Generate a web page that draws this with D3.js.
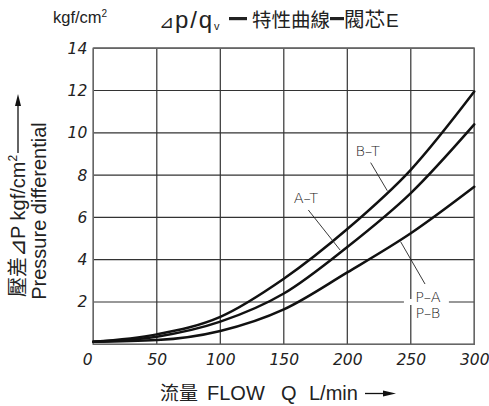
<!DOCTYPE html>
<html>
<head>
<meta charset="utf-8">
<script src="https://cdn.jsdelivr.net/npm/d3@7"></script>
<style>
  body { margin: 0; background: #fff; }
  svg { display: block; }
  .tick text { font-family: "DejaVu Sans", sans-serif; font-style: italic; font-weight: 200; fill: #222; }
  .lbl { font-family: "Liberation Sans", Arial, sans-serif; fill: #222; }
  .cjk { font-family: "Noto Sans CJK TC", sans-serif; }
</style>
</head>
<body>
<svg id="chart"></svg>
<script>
const FLOW = [0, 50, 100, 150, 200, 250, 300];
const BT   = [0.12, 0.47, 1.3, 3.1, 5.45, 8.25, 11.95];
const AT   = [0.12, 0.36, 1.07, 2.4, 4.6, 7.15, 10.4];
const PAB  = [0.12, 0.2, 0.63, 1.65, 3.4, 5.25, 7.45];
const X_TICKS = [0, 50, 100, 150, 200, 250, 300];
const Y_TICKS = [2, 4, 6, 8, 10, 12, 14];
const CURVE_LABELS = ["B–T", "A–T", "P–A", "P–B"];

const W = 489, H = 406;
const M = { left: 93.3, right: 14.7, top: 48.2, bottom: 61.7 };
const iw = W - M.left - M.right, ih = H - M.top - M.bottom;

const svg = d3.select("#chart").attr("width", W).attr("height", H);
const g = svg.append("g").attr("transform", "translate(" + M.left + "," + M.top + ")");

const x = d3.scaleLinear().domain([0, 300]).range([0, iw]);
const y = d3.scaleLinear().domain([0, 14]).range([ih, 0]);

// grid
g.append("g").selectAll("line").data(X_TICKS).join("line")
  .attr("x1", d => x(d)).attr("x2", d => x(d)).attr("y1", 0).attr("y2", ih)
  .attr("stroke", "#333").attr("stroke-width", 1.2);
g.append("g").selectAll("line").data([0].concat(Y_TICKS)).join("line")
  .attr("x1", 0).attr("x2", iw).attr("y1", d => y(d)).attr("y2", d => y(d))
  .attr("stroke", "#333").attr("stroke-width", 1.2);
g.append("rect").attr("width", iw).attr("height", ih)
  .attr("fill", "none").attr("stroke", "#666").attr("stroke-width", 1.4);

// axes (labels only)
const xa = g.append("g").attr("transform", "translate(0," + ih + ")")
  .call(d3.axisBottom(x).tickValues(X_TICKS).tickSize(0).tickPadding(10));
xa.select(".domain").remove();
xa.selectAll("text").attr("font-size", 15.5).attr("dx", d => d === 0 ? -6 : 0);
const ya = g.append("g")
  .call(d3.axisLeft(y).tickValues(Y_TICKS).tickSize(0).tickPadding(6));
ya.select(".domain").remove();
ya.selectAll("text").attr("font-size", 15.5).attr("dy", "0.32em");

// curves
const line = d3.line().x((d, i) => x(FLOW[i])).y(d => y(d)).curve(d3.curveMonotoneX);
[BT, AT, PAB].forEach(s => {
  g.append("path").attr("d", line(s)).attr("fill", "none")
    .attr("stroke", "#111").attr("stroke-width", 2.5).attr("stroke-linecap", "round");
});

// curve labels
g.append("rect").attr("x", x(244.6)).attr("y", y(2) - 3).attr("width", x(280) - x(244.6)).attr("height", 6)
  .attr("fill", "#fff");
const leaders = [
  [[218.4, 8.59], [231.5, 7.26]],
  [[169.3, 6.35], [194.3, 4.46]],
  [[261.2, 2.85], [242, 4.85]],
];
leaders.forEach(l => {
  g.append("line").attr("x1", x(l[0][0])).attr("y1", y(l[0][1]))
    .attr("x2", x(l[1][0])).attr("y2", y(l[1][1]))
    .attr("stroke", "#222").attr("stroke-width", 0.9);
});
const labelPos = [[216, 9.14], [167.5, 6.94], [263.5, 2.26], [263.5, 1.48]];
g.selectAll("text.cl").data(CURVE_LABELS).join("text").attr("class", "cl lbl")
  .attr("x", (d, i) => x(labelPos[i][0])).attr("y", (d, i) => y(labelPos[i][1])).attr("dy", "0.35em")
  .attr("text-anchor", "middle").attr("font-size", 14.5)
  .style("font-family", "'DejaVu Sans', sans-serif").style("font-weight", 200)
  .text(d => d);

// titles
svg.append("text").attr("class", "lbl").attr("x", 53).attr("y", 23).attr("font-size", 16.5)
  .html('kgf/cm<tspan font-size="10" dy="-6">2</tspan>');
svg.append("text").attr("class", "lbl").attr("x", 159).attr("y", 28).attr("font-size", 18).text("⊿");
svg.append("text").attr("class", "lbl").attr("x", 175).attr("y", 28).attr("font-size", 24)
  .attr("textLength", 37).attr("lengthAdjust", "spacing").text("p/q");
svg.append("text").attr("class", "lbl").attr("x", 214).attr("y", 30).attr("font-size", 11).text("v");
svg.append("rect").attr("x", 229).attr("y", 17).attr("width", 18).attr("height", 3.2).attr("fill", "#222");
svg.append("text").attr("class", "lbl cjk").attr("x", 252).attr("y", 27).attr("font-size", 19.5).text("特性曲線");
svg.append("rect").attr("x", 330).attr("y", 17).attr("width", 14).attr("height", 3.2).attr("fill", "#222");
svg.append("text").attr("class", "lbl cjk").attr("x", 344).attr("y", 27).attr("font-size", 20.5).text("閥芯");
svg.append("text").attr("class", "lbl").attr("x", 386).attr("y", 27).attr("font-size", 19).text("E");

// x title
svg.append("text").attr("class", "lbl cjk").attr("x", 160).attr("y", 400).attr("font-size", 19).text("流量");
svg.append("text").attr("class", "lbl").attr("x", 207).attr("y", 400).attr("font-size", 20).text("FLOW");
svg.append("text").attr("class", "lbl").attr("x", 281).attr("y", 400).attr("font-size", 20).text("Q");
svg.append("text").attr("class", "lbl").attr("x", 309).attr("y", 400).attr("font-size", 20).text("L/min");
svg.append("line").attr("x1", 365).attr("x2", 384).attr("y1", 393.5).attr("y2", 393.5).attr("stroke", "#111").attr("stroke-width", 1.3);
svg.append("path").attr("d", "M383,390.5 L396,393.5 L383,396.5 Z").attr("fill", "#111");

// y title
const yt1 = svg.append("text").attr("class", "lbl")
  .attr("transform", "translate(25,297) rotate(-90)").attr("font-size", 20);
yt1.append("tspan").attr("class", "cjk").attr("font-size", 20).text("壓差");
yt1.append("tspan").attr("font-size", 22).text("⊿");
yt1.append("tspan").text("P  kgf/cm");
yt1.append("tspan").attr("font-size", 12).attr("dy", -8).text("2");
const yEnd = 297 - yt1.node().getComputedTextLength() - 2;
svg.append("line").attr("x1", 18).attr("x2", 18).attr("y1", yEnd).attr("y2", 104).attr("stroke", "#111").attr("stroke-width", 1.3);
svg.append("path").attr("d", "M15,106 L18,94 L21,106 Z").attr("fill", "#111");
svg.append("text").attr("class", "lbl")
  .attr("transform", "translate(46,211) rotate(-90)").attr("text-anchor", "middle").attr("font-size", 20)
  .text("Pressure differential");
</script>
</body>
</html>
